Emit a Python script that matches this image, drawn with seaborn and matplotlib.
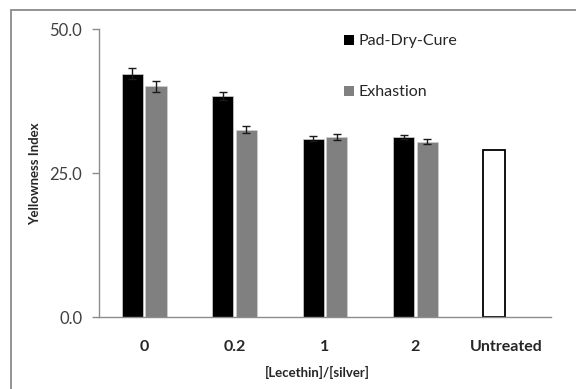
import numpy as np
import pandas as pd
import matplotlib
matplotlib.use("Agg")
import matplotlib.pyplot as plt
from matplotlib.patches import Patch, Rectangle
from matplotlib.ticker import FormatStrFormatter
import seaborn as sns

# ---- data ----
categories = ["0", "0.2", "1", "2"]
pad_dry_cure = [42.3, 38.5, 31.0, 31.3]
pad_dry_cure_err = [0.9, 0.7, 0.4, 0.4]
exhastion = [40.1, 32.6, 31.3, 30.5]
exhastion_err = [1.0, 0.65, 0.5, 0.4]
untreated_label = "Untreated"
untreated_value = 29.1
series_names = ["Pad-Dry-Cure", "Exhastion"]
yticks = [0, 25, 50]

rows = []
for c, v in zip(categories, pad_dry_cure):
    rows.append({"ratio": c, "method": series_names[0], "yi": v})
for c, v in zip(categories, exhastion):
    rows.append({"ratio": c, "method": series_names[1], "yi": v})
rows.append({"ratio": untreated_label, "method": series_names[0], "yi": untreated_value})
df = pd.DataFrame(rows)
order = categories + [untreated_label]

sns.set_style("white")
plt.rcParams["font.family"] = ["Lato", "DejaVu Sans"]

fig = plt.figure(figsize=(5.76, 3.89), dpi=100)
ax = fig.add_axes([99/576, 1-317.3/389, 452/576, 288/389])

colors = {series_names[0]: "#000000", series_names[1]: "#808080"}
sns.barplot(data=df, x="ratio", y="yi", hue="method", order=order,
            hue_order=series_names, palette=colors, errorbar=None,
            width=0.52, gap=0.1, dodge=True, ax=ax, legend=False,
            edgecolor="#d0d0d0", linewidth=0.5)

# style untreated bar & add error bars
errs = {series_names[0]: pad_dry_cure_err, series_names[1]: exhastion_err}
for cont, name in zip(ax.containers, series_names):
    xs, ys, es = [], [], []
    for i, bar in enumerate(cont):
        if name == series_names[0] and i == len(categories):
            bar.set_facecolor("white")
            bar.set_edgecolor("black")
            bar.set_linewidth(1.3)
            continue
        if i < len(categories):
            xs.append(bar.get_x() + bar.get_width()/2)
            ys.append(bar.get_height())
            es.append(errs[name][i])
    ax.errorbar(xs, ys, yerr=es, fmt="none", ecolor="#1a1a1a",
                elinewidth=1.0, capsize=3.2, capthick=1.0, zorder=5)

ax.set_xlim(-0.5, 4.5)
ax.set_ylim(0, 50)
ax.set_yticks(yticks)
ax.yaxis.set_major_formatter(FormatStrFormatter("%.1f"))

for s in ["top", "right"]:
    ax.spines[s].set_visible(False)
ax.spines["left"].set_color("#8c8c8c")
ax.spines["bottom"].set_color("#8c8c8c")
ax.spines["left"].set_linewidth(1.0)
ax.spines["bottom"].set_linewidth(1.0)

ax.tick_params(axis="y", which="major", direction="out", length=5, width=1.0,
               color="#8c8c8c", labelsize=12, labelcolor="#404040", pad=7, left=True)
ax.tick_params(axis="x", length=0, pad=16, labelsize=11.5)
for t in ax.get_xticklabels():
    t.set_fontweight("bold")

ax.set_xlabel("[Lecethin]/[silver]", fontsize=9.5, fontweight="bold")
ax.set_ylabel("Yellowness Index", fontsize=9.5, fontweight="bold")
ax.xaxis.set_label_coords((317-99)/452, (317.3-372)/288)
ax.xaxis.label.set_va("center")
ax.yaxis.set_label_coords((35-99)/452, 0.5)
ax.yaxis.label.set_va("center")

handles = [Patch(facecolor=colors[n], edgecolor="none") for n in series_names]
ax.legend(handles, series_names, loc="upper left",
          bbox_to_anchor=(344/576, 1-34.5/389), bbox_transform=fig.transFigure,
          frameon=False, fontsize=11.5, handlelength=0.6, handleheight=0.6,
          handletextpad=0.3, labelspacing=2.3, borderpad=0, borderaxespad=0)

# outer border
fig.patches.append(Rectangle((10.5/576, -0.1), 1.2, 1-10/389+0.1,
                             transform=fig.transFigure, fill=False,
                             edgecolor="#8a8a8a", linewidth=1.3, zorder=10))

fig.savefig("out.png", dpi=100)
